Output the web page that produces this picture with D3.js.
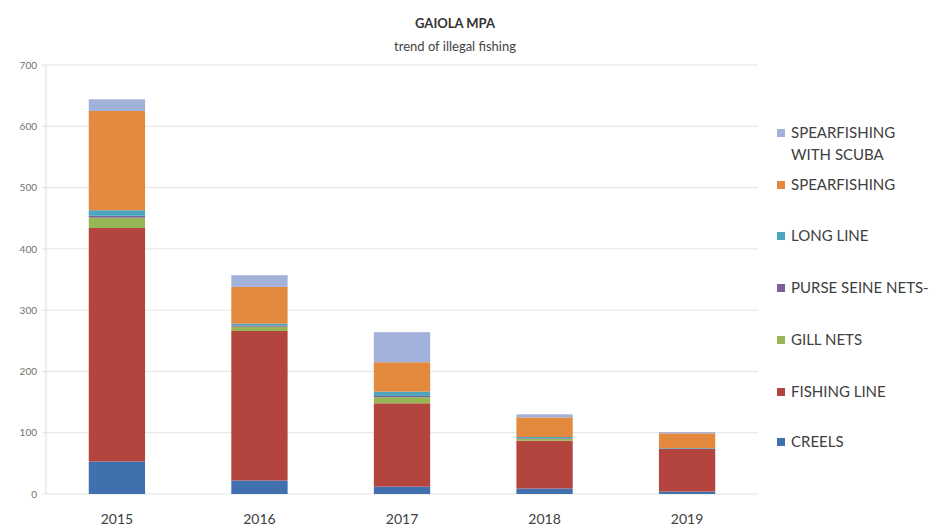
<!DOCTYPE html>
<html>
<head>
<meta charset="utf-8">
<script src="https://cdn.jsdelivr.net/npm/d3@7"></script>
<style>
  body { margin: 0; background: #fff; }
  svg { font-family: Lato, "Open Sans", sans-serif; }
</style>
</head>
<body>
<script>
// data
var years = ["2015", "2016", "2017", "2018", "2019"];
var creels      = [53, 22, 12, 9, 4];
var fishingLine = [381, 244, 136, 78, 70];
var gillNets    = [17, 7, 10, 3, 0];
var purseSeine  = [3, 2, 2, 1, 0];
var longLine    = [9, 3, 7, 2, 1];
var spearfishing = [162, 60, 48, 32, 24];
var scuba       = [19, 19, 49, 5, 2];
var yTicks = [0, 100, 200, 300, 400, 500, 600, 700];

var seriesNames = ["CREELS", "FISHING LINE", "GILL NETS", "PURSE SEINE NETS-", "LONG LINE", "SPEARFISHING", "SPEARFISHING WITH SCUBA"];
var seriesVals = [creels, fishingLine, gillNets, purseSeine, longLine, spearfishing, scuba];
var colors = ["#4170ae", "#b3453e", "#98b656", "#7a5f9a", "#4aa5bd", "#e38a3e", "#a2b1da"];

var w = 936, h = 531;
var margin = {top: 65, right: 178, bottom: 37, left: 46};

var table = years.map(function(y, i) {
  var row = {year: y};
  seriesNames.forEach(function(s, j) { row[s] = seriesVals[j][i]; });
  return row;
});
var stacked = d3.stack().keys(seriesNames)(table);

var svg = d3.select("body").append("svg")
  .attr("width", w)
  .attr("height", h);

var x = d3.scaleBand().domain(years)
  .range([margin.left, w - margin.right])
  .paddingInner(0.605).paddingOuter(0.3);
var y = d3.scaleLinear().domain([0, 700])
  .range([h - margin.bottom, margin.top]);

// grid
svg.append("g").selectAll("line").data(yTicks).enter().append("line")
  .attr("x1", margin.left - 4)
  .attr("x2", w - margin.right)
  .attr("y1", function(d) { return y(d); })
  .attr("y2", function(d) { return y(d); })
  .attr("stroke", "#e3e3e3")
  .attr("stroke-width", 1);

svg.append("line")
  .attr("x1", margin.left).attr("x2", margin.left)
  .attr("y1", y(700)).attr("y2", y(0))
  .attr("stroke", "#dcdcdc");

// y axis labels
var yAxis = d3.axisLeft(y).tickValues(yTicks).tickSize(0).tickPadding(9);
var ya = svg.append("g").attr("transform", "translate(" + margin.left + ",0)").call(yAxis);
ya.select(".domain").remove();
ya.selectAll("text").attr("font-size", "10px").attr("fill", "#707070")
  .attr("font-family", "Lato, sans-serif");

// bars
svg.append("g").selectAll("g").data(stacked).enter().append("g")
  .attr("fill", function(d, i) { return colors[i]; })
  .selectAll("rect").data(function(d) { return d; }).enter().append("rect")
  .attr("x", function(d) { return x(d.data.year); })
  .attr("y", function(d) { return y(d[1]); })
  .attr("height", function(d) { return y(d[0]) - y(d[1]); })
  .attr("width", x.bandwidth());

// x labels
var xAxis = d3.axisBottom(x).tickSize(0).tickPadding(20);
var xa = svg.append("g").attr("transform", "translate(0," + y(0) + ")").call(xAxis);
xa.select(".domain").remove();
xa.selectAll("text").attr("font-size", "14px").attr("fill", "#404040")
  .attr("font-family", "Lato, sans-serif");

// title
svg.append("text").attr("x", 455).attr("y", 28)
  .attr("text-anchor", "middle").attr("font-weight", "bold")
  .attr("font-size", "13px").attr("fill", "#333")
  .text("GAIOLA MPA");
svg.append("text").attr("x", 455).attr("y", 51)
  .attr("text-anchor", "middle")
  .attr("font-size", "13px").attr("fill", "#444")
  .text("trend of illegal fishing");

// legend, top to bottom
var legendY = [133, 185, 236, 288, 340, 392, 442];
var legendItems = seriesNames.slice().reverse();
var legendColors = colors.slice().reverse();
var lg = svg.append("g").selectAll("g").data(legendItems).enter().append("g")
  .attr("transform", function(d, i) { return "translate(777," + legendY[i] + ")"; });
lg.append("rect")
  .attr("x", 0).attr("y", -4).attr("width", 8).attr("height", 8)
  .attr("fill", function(d, i) { return legendColors[i]; });
lg.append("text")
  .attr("x", 14).attr("y", 5)
  .attr("font-size", "15px").attr("fill", "#404040")
  .each(function(d) {
    var t = d3.select(this);
    if (d == "SPEARFISHING WITH SCUBA") {
      t.append("tspan").attr("x", 14).text("SPEARFISHING");
      t.append("tspan").attr("x", 14).attr("dy", 22).text("WITH SCUBA");
    } else {
      t.text(d);
    }
  });
</script>
</body>
</html>
